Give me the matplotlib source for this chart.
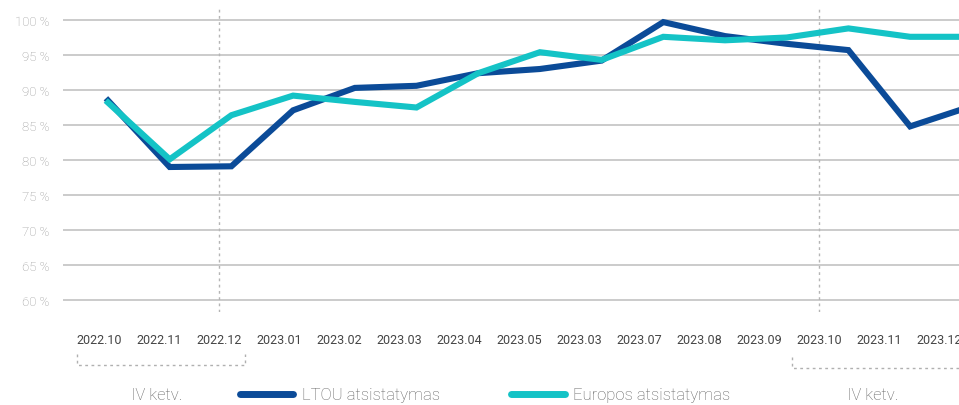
import matplotlib
matplotlib.use('Agg')
import matplotlib.pyplot as plt
import numpy as np

months = ['2022.10', '2022.11', '2022.12', '2023.01', '2023.02', '2023.03', '2023.04',
          '2023.05', '2023.03', '2023.07', '2023.08', '2023.09', '2023.10', '2023.11', '2023.12']
ltou = [88.5, 79.0, 79.1, 87.1, 90.3, 90.6, 92.4, 93.0, 94.2, 99.7, 97.7, 96.6, 95.7, 84.8, 87.7]
europe = [88.2, 80.1, 86.4, 89.2, 88.3, 87.5, 92.4, 95.4, 94.3, 97.6, 97.1, 97.5, 98.8, 97.6, 97.6]
yticks = [60, 65, 70, 75, 80, 85, 90, 95, 100]
quarter_label = 'IV ketv.'

DARK = '#0b4b98'
TEAL = '#14c3c6'
plt.rcParams['font.family'] = ['Roboto', 'DejaVu Sans']

W, H = 959, 406
fig = plt.figure(figsize=(W / 100, H / 100), dpi=100)
ax = fig.add_axes([63 / W, (H - 313) / H, 1 - 63 / W, 305 / H])

x = np.arange(len(months))
ax.plot(x, ltou, color=DARK, lw=4.4, solid_joinstyle='miter', label='LTOU atsistatymas', zorder=3)
ax.plot(x, europe, color=TEAL, lw=4.4, solid_joinstyle='miter', label='Europos atsistatymas', zorder=3)

# tick labels sit a bit left of the points in the original
label_pos = -0.146 + 0.9724 * x
ax.set_xticks(label_pos)
ax.set_xticklabels(months, fontsize=9, color='#444444')
ax.tick_params(axis='x', length=0, pad=15)
ax.set_yticks(yticks)
ax.set_yticklabels([f'{v} %' for v in yticks], fontsize=9.5, color='#999999', fontweight='light')
ax.tick_params(axis='y', length=0, pad=10)
ax.set_xlim((63 - 108) / 61.7, (959 - 108) / 61.7)
ax.set_ylim(60 - 12 / 7, 100 + 13 / 7)
for s in ax.spines.values():
    s.set_visible(False)
for v in yticks:
    ax.axhline(v, color='#bdbdbd', lw=1.1, zorder=1)
for i in (2, 12):
    ax.axvline(label_pos[i], color='#b5b5b5', lw=1, ls=(0, (2, 2.5)), zorder=1)

# quarter brackets
def fx(p):
    return p / W

def fy(p):
    return 1 - p / H

for x0, x1, y0, y1 in [(77, 245, 355, 366), (792, 962, 358, 369)]:
    fig.add_artist(plt.Line2D([fx(x0), fx(x0), fx(x1), fx(x1)], [fy(y0), fy(y1), fy(y1), fy(y0)],
                              color='#b0b0b0', lw=1, ls=(0, (2, 2.5))))
fig.text(fx(157), fy(396), quarter_label, ha='center', va='center', fontsize=12,
         color='#606060', fontweight='light')
fig.text(fx(873), fy(396), quarter_label, ha='center', va='center', fontsize=12,
         color='#606060', fontweight='light')

leg = fig.legend(loc='center left', bbox_to_anchor=(fx(240), fy(396)), ncol=2, frameon=False,
                 handlelength=3.2, handletextpad=0.5, columnspacing=4.3,
                 labelcolor='#606060', borderaxespad=0, borderpad=0,
                 prop={'weight': 'light', 'size': 12})
for ln in leg.get_lines():
    ln.set_linewidth(5)
    ln.set_solid_capstyle('round')

fig.savefig('out.png', dpi=100)
